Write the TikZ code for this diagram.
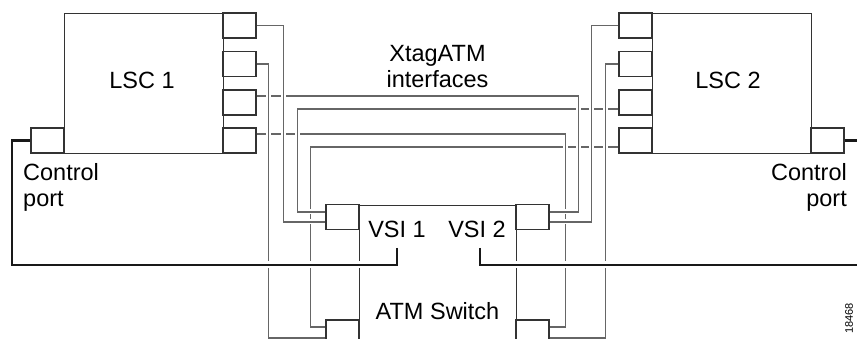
\documentclass[tikz,border=0pt]{standalone}
\usepackage{fontspec}
\setmainfont{Liberation Sans}
\usetikzlibrary{positioning}

\tikzset{
  box/.style={draw=black!80, line width=1.1pt, inner sep=0pt, anchor=north west},
  port/.style={draw=black!80, line width=1.1pt, inner sep=0pt, minimum width=33pt, minimum height=25pt},
  wire/.style={draw=black!60, line width=1.2pt,
    preaction={draw=white, line width=5pt, shorten <=3pt, shorten >=3pt}},
  ctl/.style={draw=black!90, line width=2.6pt,
    preaction={draw=white, line width=7pt, shorten <=3pt, shorten >=3pt}},
  lbl/.style={font=\fontsize{23.5}{26}\selectfont, inner sep=0pt},
}

\begin{document}
\begin{tikzpicture}[x=1pt, y=-1pt]
\useasboundingbox (0,0) rectangle (857,339);
\clip (0,0) rectangle (857,339);
% the two label switch controllers and the switch (cut off at the bottom)
\node[box, minimum width=159pt, minimum height=140pt] (lsc1) at (64,13) {};
\node[box, minimum width=159pt, minimum height=140pt] (lsc2) at (652,13) {};
\node[box, minimum width=157pt, minimum height=200pt] (atm) at (359,205) {};
% ports
\foreach \i/\y in {1/25.5,2/64,3/102.5,4/140.5} {
  \node[port] (l1p\i) at (239.5,\y) {};
  \node[port] (l2p\i) at (635.5,\y) {};
}
\node[port] (l1ctl) at (47.5,140.5) {};
\node[port] (l2ctl) at (827.5,140.5) {};
\node[port] (vsi1p) at (342.5,217) {};
\node[port] (vsi2p) at (532.5,217) {};
\node[port] (sw1p) at (342.5,332.5) {};
\node[port] (sw2p) at (532.5,332.5) {};
% XtagATM interfaces; later wires pass over earlier ones
\draw[wire] ([yshift=-6.5pt]l2p4.west) -- ++(-308,0) |- ([yshift=5.5pt]sw1p.west);
\draw[wire] ([yshift=6.5pt]l1p4.east) -- ++(309,0) |- ([yshift=5.5pt]sw2p.east);
\draw[wire] ([yshift=-6.5pt]l2p3.west) -- ++(-321,0) |- ([yshift=5pt]vsi1p.west);
\draw[wire] ([yshift=6.5pt]l1p3.east) -- ++(322,0) |- ([yshift=5pt]vsi2p.east);
\draw[wire] (l1p1.east) -- ++(27,0) |- ([yshift=-5pt]vsi1p.west);
\draw[wire] (l1p2.east) -- ++(12,0) |- ([yshift=-5.5pt]sw1p.west);
\draw[wire] (l2p1.west) -- ++(-27,0) |- ([yshift=-5pt]vsi2p.east);
\draw[wire] (l2p2.west) -- ++(-13,0) |- ([yshift=-5.5pt]sw2p.east);
% control links from the VSIs
\coordinate (v1c) at (397,248);
\coordinate (v2c) at (480,248);
\draw[ctl] (v1c) |- (12,265) |- (l1ctl.west);
\draw[ctl] (v2c) |- (866,265) |- (l2ctl.east);
% labels
\node[lbl, anchor=base] (lsc1lbl) at (142,89) {LSC 1};
\node[lbl, anchor=base] (lsc2lbl) at (728,89) {LSC 2};
\node[lbl, align=center, anchor=base] (xtag) at (437.5,88) {XtagATM\\interfaces};
\node[lbl, anchor=base] (vsi1lbl) at (397,238) {VSI 1};
\node[lbl, anchor=base] (vsi2lbl) at (477,238) {VSI 2};
\node[lbl, anchor=base] (atmlbl) at (437.5,319) {ATM Switch};
\node[lbl, align=left, anchor=base west] (ctl1lbl) at (23,207) {Control\\port};
\node[lbl, align=right, anchor=base east] (ctl2lbl) at (847,207) {Control\\port};
\node[font=\fontsize{11}{13}\selectfont, inner sep=0pt, rotate=90, anchor=east] (fignum) at (849,303) {18468};
\end{tikzpicture}
\end{document}
